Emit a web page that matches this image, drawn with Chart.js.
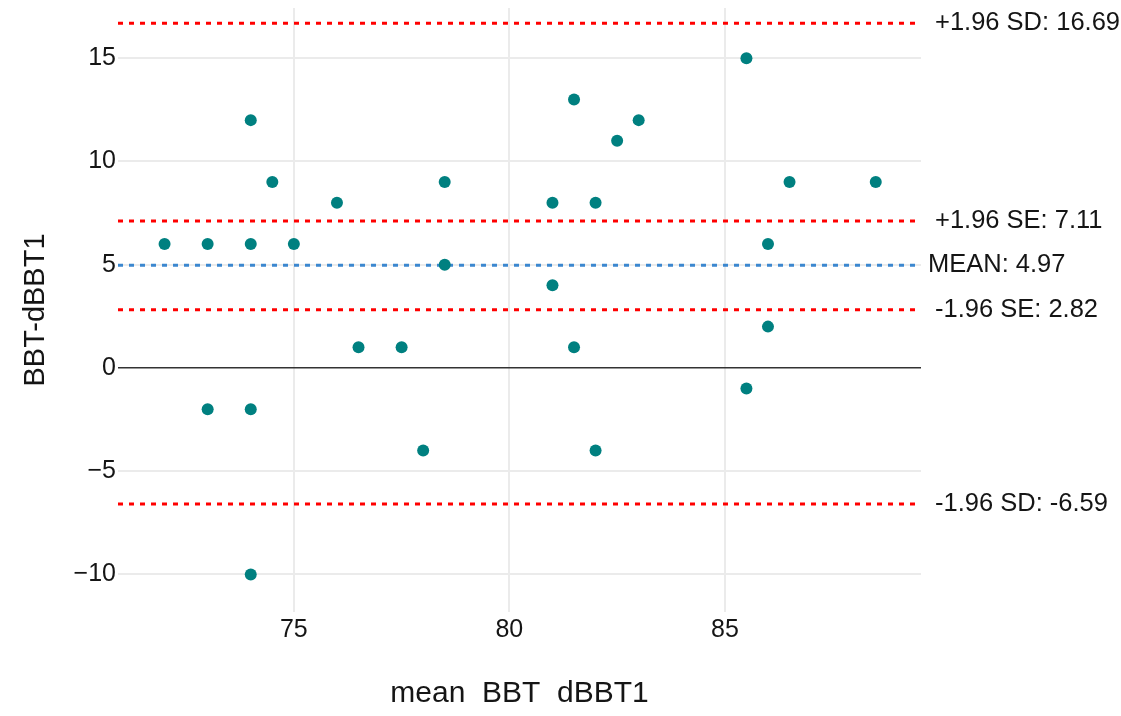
<!DOCTYPE html>
<html>
<head>
<meta charset="utf-8">
<script src="https://cdn.jsdelivr.net/npm/chart.js@4"></script>
<style>
  html, body { margin: 0; padding: 0; background: #fff; }
</style>
</head>
<body>
<canvas id="blandAltman" width="1121" height="716"></canvas>
<script>
// mean of the two measures (x) and their difference (y)
const meanValues = [72, 73, 74, 75, 74, 74.5, 76, 78.5, 78.5, 76.5, 77.5, 73, 74, 74, 78,
  81, 81, 81.5, 81.5, 82, 82, 82.5, 83, 85.5, 85.5, 86, 86, 86.5, 88.5];
const diffValues = [6, 6, 6, 6, 12, 9, 8, 9, 5, 1, 1, -2, -2, -10, -4,
  8, 4, 13, 1, 8, -4, 11, 12, 15, -1, 6, 2, 9, 9];

const limitNames = ['+1.96 SD', '+1.96 SE', 'MEAN', '-1.96 SE', '-1.96 SD'];
const limitValues = [16.69, 7.11, 4.97, 2.82, -6.59];

const xTicks = [75, 80, 85];
const yTicks = [-10, -5, 0, 5, 10, 15];
const xRange = [70.92, 89.55];
const yRange = [-11.82, 17.43];

const FONT = '"Liberation Sans", Arial, Helvetica, sans-serif';
const TEXT = '#151515';
const RED = '#ff0000';
const BLUE = '#3b87cf';

const limitDatasets = limitNames.map((name, i) => ({
  type: 'line',
  label: name,
  data: [{ x: xRange[0], y: limitValues[i] }, { x: xRange[1], y: limitValues[i] }],
  borderColor: name === 'MEAN' ? BLUE : RED,
  borderWidth: 3,
  borderDash: [5, 6],
  pointRadius: 0,
  fill: false,
  order: 2
}));

const limitLabels = {
  id: 'limitLabels',
  afterDatasetsDraw(chart) {
    const { ctx, chartArea, scales: { y } } = chart;
    ctx.save();
    ctx.font = `25.5px ${FONT}`;
    ctx.fillStyle = TEXT;
    ctx.textBaseline = 'middle';
    ctx.textAlign = 'left';
    limitNames.forEach((name, i) => {
      const gap = name === 'MEAN' ? 7 : 14;
      ctx.fillText(`${name}: ${limitValues[i].toFixed(2)}`, chartArea.right + gap, y.getPixelForValue(limitValues[i]));
    });
    ctx.restore();
  }
};

new Chart(document.getElementById('blandAltman').getContext('2d'), {
  type: 'scatter',
  data: {
    datasets: [
      {
        label: 'points',
        data: meanValues.map((m, i) => ({ x: m, y: diffValues[i] })),
        backgroundColor: '#008080',
        borderWidth: 0,
        pointRadius: 6,
        order: 0
      },
      ...limitDatasets
    ]
  },
  options: {
    responsive: false,
    animation: false,
    devicePixelRatio: 1,
    layout: { padding: { top: 8, right: 200, left: 0, bottom: 0 } },
    plugins: { legend: { display: false }, tooltip: { enabled: false } },
    scales: {
      x: {
        type: 'linear',
        min: xRange[0],
        max: xRange[1],
        afterBuildTicks: axis => { axis.ticks = xTicks.map(v => ({ value: v })); },
        afterFit: scale => { scale.height = 104; scale.paddingLeft = 0; scale.paddingRight = 0; },
        grid: { color: '#ebebeb', lineWidth: 2, drawTicks: false },
        border: { display: false },
        ticks: { padding: 3, color: TEXT, font: { family: FONT, size: 25 } },
        title: {
          display: true,
          text: 'mean  BBT  dBBT1',
          color: TEXT,
          font: { family: FONT, size: 30, lineHeight: 1 },
          padding: { top: 0, bottom: 7 }
        }
      },
      y: {
        type: 'linear',
        min: yRange[0],
        max: yRange[1],
        afterBuildTicks: axis => { axis.ticks = yTicks.map(v => ({ value: v })); },
        afterFit: scale => { scale.width = 118; scale.paddingTop = 0; scale.paddingBottom = 0; },
        grid: {
          color: c => c.tick && c.tick.value === 0 ? '#333' : '#ebebeb',
          lineWidth: c => c.tick && c.tick.value === 0 ? 1.5 : 2,
          drawTicks: false
        },
        border: { display: false },
        ticks: {
          padding: 2,
          color: TEXT,
          font: { family: FONT, size: 25 },
          callback: v => String(v).replace('-', '\u2212')
        },
        title: {
          display: true,
          text: 'BBT-dBBT1',
          color: TEXT,
          font: { family: FONT, size: 29, lineHeight: 1 },
          padding: { top: 21, bottom: 0 }
        }
      }
    }
  },
  plugins: [limitLabels]
});
</script>
</body>
</html>
